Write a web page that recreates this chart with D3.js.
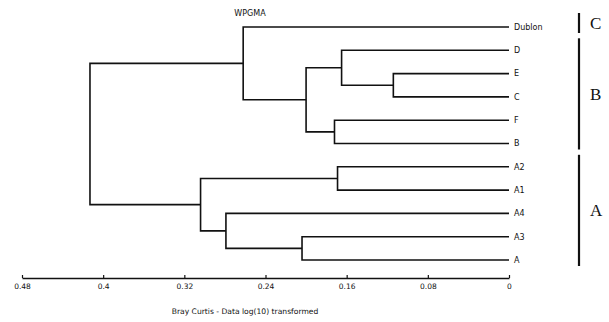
<!DOCTYPE html>
<html>
<head>
<meta charset="utf-8">
<script src="https://cdn.jsdelivr.net/npm/d3@7"></script>
<style>
  body { margin: 0; background: #fff; }
  text { font-family: "DejaVu Sans", sans-serif; fill: #111; }
  text.group { font-family: "Liberation Serif", "DejaVu Serif", serif; }
</style>
</head>
<body>
<script>
// leaves top to bottom
let leaves = ["Dublon", "D", "E", "C", "F", "B", "A2", "A1", "A4", "A3", "A"];

// merges: [left child, right child, distance]  (WPGMA, Bray Curtis)
let merges = [
  ["E", "C", 0.114],
  ["D", "E+C", 0.165],
  ["F", "B", 0.172],
  ["D+E+C", "F+B", 0.200],
  ["Dublon", "D+E+C+F+B", 0.262],
  ["A2", "A1", 0.169],
  ["A3", "A", 0.204],
  ["A4", "A3+A", 0.279],
  ["A2+A1", "A4+A3+A", 0.304],
  ["Dublon+D+E+C+F+B", "A2+A1+A4+A3+A", 0.413]
];

let tickValues = [0.48, 0.4, 0.32, 0.24, 0.16, 0.08, 0];
let tickLabels = ["0.48", "0.4", "0.32", "0.24", "0.16", "0.08", "0"];

// groups marked on the right
let groups = [
  { label: "C", first: "Dublon", last: "Dublon" },
  { label: "B", first: "D", last: "B" },
  { label: "A", first: "A2", last: "A" }
];

let svg = d3.select("body")
  .append("svg")
    .attr("width", 609)
    .attr("height", 322)
;

let x = d3.scaleLinear().domain([0.48, 0]).range([22, 509]);
let y = d3.scalePoint().domain(leaves).range([27, 260]);

// node positions
let nodes = {};
leaves.forEach(function(l){
  nodes[l] = { x: x(0), y: y(l) };
});
merges.forEach(function(m){
  let a = nodes[m[0]], b = nodes[m[1]];
  let nx = x(m[2]);
  let ny = (a.y + b.y) / 2;
  // vertical joining bar + horizontal arms to children
  let path = "M" + a.x + "," + a.y + "H" + nx + "V" + b.y + "H" + b.x;
  svg.append("path")
    .attr("d", path)
    .attr("fill", "none")
    .attr("stroke", "#111")
    .attr("stroke-width", 1.6)
  ;
  nodes[m[0] + "+" + m[1]] = { x: nx, y: ny };
});

// leaf labels
svg.selectAll("text.leaf").data(leaves)
  .enter()
    .append("text")
    .attr("class", "leaf")
    .attr("x", x(0) + 5)
    .attr("y", function(d){ return y(d); })
    .attr("dy", "0.35em")
    .attr("font-size", 8)
    .text(function(d){ return d; })
;

// title
svg.append("text")
  .attr("x", 250)
  .attr("y", 16)
  .attr("text-anchor", "middle")
  .attr("font-size", 8)
  .text("WPGMA");

// axis
let axis = d3.axisBottom(x)
  .tickValues(tickValues)
  .tickFormat(function(d, i){ return tickLabels[i]; })
  .tickSize(3)
  .tickSizeOuter(0);

let gx = svg.append("g")
  .attr("transform", "translate(0,278)")
  .call(axis);
gx.select(".domain").attr("stroke", "#111").attr("stroke-width", 1.6);
gx.selectAll(".tick line").attr("stroke", "#111").attr("stroke-width", 1.2).attr("y2", -3);
gx.selectAll(".tick text")
  .attr("y", 6)
  .attr("font-size", 7.5)
  .attr("fill", "#111");

svg.append("text")
  .attr("x", 245)
  .attr("y", 314)
  .attr("text-anchor", "middle")
  .attr("font-size", 7.6)
  .text("Bray Curtis - Data log(10) transformed");

// group brackets
groups.forEach(function(g){
  let y0 = y(g.first) - 12, y1 = y(g.last) + 6;
  if (g.first == g.last) { y0 = y(g.first) - 14; y1 = y(g.first) + 6; }
  svg.append("line")
    .attr("x1", 579).attr("x2", 579)
    .attr("y1", y0).attr("y2", y1)
    .attr("stroke", "#111")
    .attr("stroke-width", 2.2);
  svg.append("text")
    .attr("class", "group")
    .attr("x", 590)
    .attr("y", (y0 + y1) / 2)
    .attr("dy", "0.35em")
    .attr("font-size", 17)
    .text(g.label);
});
</script>
</body>
</html>
